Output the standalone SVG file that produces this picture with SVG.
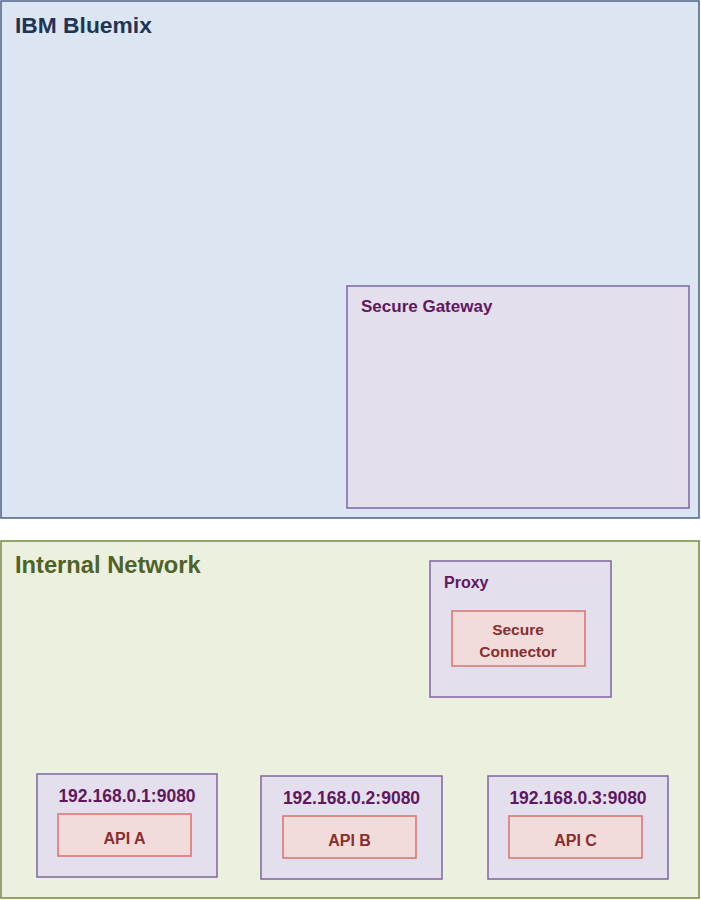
<svg xmlns="http://www.w3.org/2000/svg" width="701" height="900" viewBox="0 0 701 900">
<style>
text{font-family:"Liberation Sans",Arial,sans-serif;font-weight:bold}
.blue{fill:#dce6f2;stroke:#4a6285;stroke-width:1.5}
.green{fill:#ebf1de;stroke:#71893f;stroke-width:1.5}
.purple{fill:#e4dfec;stroke:#8064a2;stroke-width:1.5}
.red{fill:#f2dcdb;stroke:#d9716d;stroke-width:1.5}
.tb{fill:#1f3556}
.tg{fill:#4f6228}
.tp{fill:#60175f}
.tr{fill:#8b2d2d;text-anchor:middle}
</style>
<rect width="701" height="900" fill="#ffffff"/>
<g id="bluemix">
<rect class="blue" x="1" y="1" width="698" height="517"/>
<text class="tb" x="15" y="33" font-size="22.8">IBM Bluemix</text>
</g>
<g id="secure-gateway">
<rect class="purple" x="347" y="286" width="342" height="222"/>
<text class="tp" x="361" y="312" font-size="17">Secure Gateway</text>
</g>
<g id="internal-network">
<rect class="green" x="1" y="541" width="698" height="357"/>
<text class="tg" x="15" y="573" font-size="23.7">Internal Network</text>
</g>
<g id="proxy">
<rect class="purple" x="430" y="561" width="181" height="136"/>
<text class="tp" x="444" y="588" font-size="16">Proxy</text>
</g>
<g id="secure-connector">
<rect class="red" x="452" y="611" width="133" height="55"/>
<text class="tr" x="518" y="635" font-size="15.5">Secure</text>
<text class="tr" x="518" y="657" font-size="15.5">Connector</text>
</g>
<g id="host-a">
<rect class="purple" x="37" y="774" width="180" height="103"/>
<text class="tp" x="127" y="802" font-size="17.5" text-anchor="middle">192.168.0.1:9080</text>
</g>
<g id="api-a">
<rect class="red" x="58" y="814" width="133" height="42"/>
<text class="tr" x="124.5" y="844" font-size="16">API A</text>
</g>
<g id="host-b">
<rect class="purple" x="261" y="776" width="181" height="103"/>
<text class="tp" x="351.5" y="804" font-size="17.5" text-anchor="middle">192.168.0.2:9080</text>
</g>
<g id="api-b">
<rect class="red" x="283" y="816" width="133" height="42"/>
<text class="tr" x="349.5" y="846" font-size="16">API B</text>
</g>
<g id="host-c">
<rect class="purple" x="488" y="776" width="180" height="103"/>
<text class="tp" x="578" y="804" font-size="17.5" text-anchor="middle">192.168.0.3:9080</text>
</g>
<g id="api-c">
<rect class="red" x="509" y="816" width="133" height="42"/>
<text class="tr" x="575.5" y="846" font-size="16">API C</text>
</g>
<g id="connectors"></g>
</svg>
